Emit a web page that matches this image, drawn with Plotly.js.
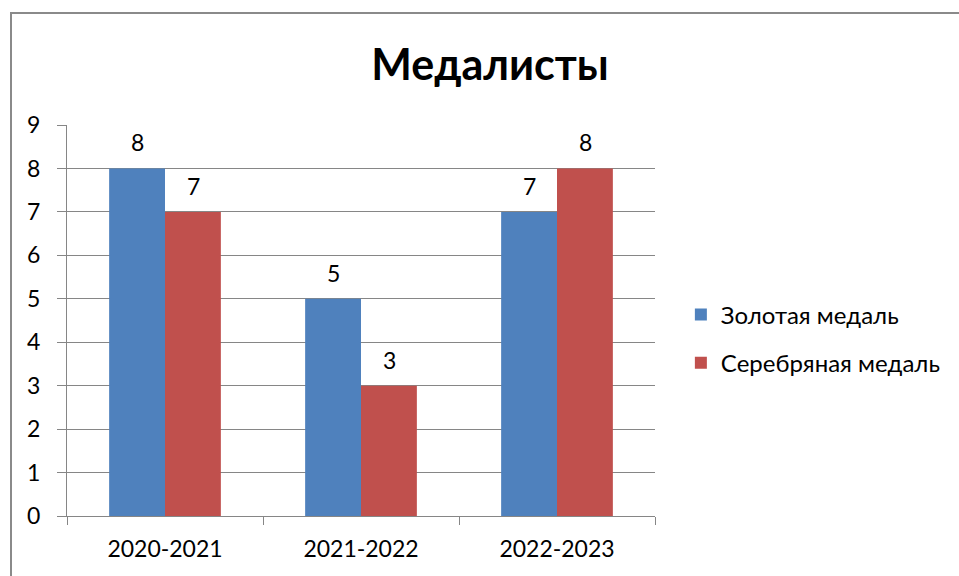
<!DOCTYPE html>
<html>
<head>
<meta charset="utf-8">
<script src="https://cdn.plot.ly/plotly-3.0.1.min.js"></script>
<style>
  body { margin: 0; background: #fff; }
  #plot { position: absolute; left: 0; top: 0; width: 959px; height: 576px; }
  #frame { position: absolute; left: 10px; top: 12px; width: 960px; height: 600px;
           border-left: 2px solid #8a8a8a; border-top: 2px solid #8a8a8a; pointer-events: none; }
</style>
</head>
<body>
<div id="plot"></div>
<div id="frame"></div>
<script>
const years = ['2020-2021', '2021-2022', '2022-2023'];
const gold = [8, 5, 7];
const silver = [7, 3, 8];
const seriesNames = ['Золотая медаль', 'Серебряная медаль'];

const font = 'Lato, "Open Sans", sans-serif';

function makeBar(values, name, color, group) {
    return {
        x: years,
        y: values,
        type: 'bar',
        name: name,
        legendgroup: group,
        marker: { color: color },
        hoverinfo: 'none'
    };
}

// value labels sit well above the bars, like in the office chart
function makeLabels(values, shift) {
    return values.map((v, i) => ({
        x: years[i],
        y: v,
        xref: 'x',
        yref: 'y',
        text: String(v),
        showarrow: false,
        xshift: shift,
        yshift: 26,
        font: { size: 23, color: '#000', family: font }
    }));
}

const traces = [
    makeBar(gold, seriesNames[0], '#4F81BD', 'g'),
    makeBar(silver, seriesNames[1], '#C0504D', 's')
];

const layout = {
    width: 959,
    height: 576,
    margin: { l: 67, r: 304, t: 125, b: 60 },
    paper_bgcolor: '#fff',
    plot_bgcolor: '#fff',
    font: { family: font, size: 23, color: '#000' },
    title: {
        text: '<b>Медалисты</b>',
        font: { size: 43, family: font, color: '#000' },
        xref: 'container', x: 0.511, xanchor: 'center',
        yref: 'container', y: 0.887, yanchor: 'middle'
    },
    bargap: 0.43,
    bargroupgap: 0,
    barmode: 'group',
    xaxis: {
        type: 'category',
        showline: true, linecolor: '#868686', linewidth: 1,
        ticks: 'outside', ticklen: 8, tickcolor: '#868686',
        tickson: 'boundaries',
        ticklabelstandoff: 12,
        showgrid: false
    },
    yaxis: {
        range: [0, 9],
        dtick: 1,
        showline: true, linecolor: '#868686', linewidth: 1,
        ticks: 'outside', ticklen: 9, tickcolor: '#868686',
        ticklabelstandoff: 12,
        gridcolor: '#868686', gridwidth: 1,
        zeroline: false
    },
    annotations: makeLabels(gold, -28).concat(makeLabels(silver, 28)),
    showlegend: true,
    legend: {
        x: 1.044, xanchor: 'left',
        y: 0.453, yanchor: 'middle',
        font: { size: 24, family: font },
        tracegroupgap: 14,
        itemwidth: 30
    }
};

Plotly.newPlot('plot', traces, layout, { staticPlot: true });
</script>
</body>
</html>
